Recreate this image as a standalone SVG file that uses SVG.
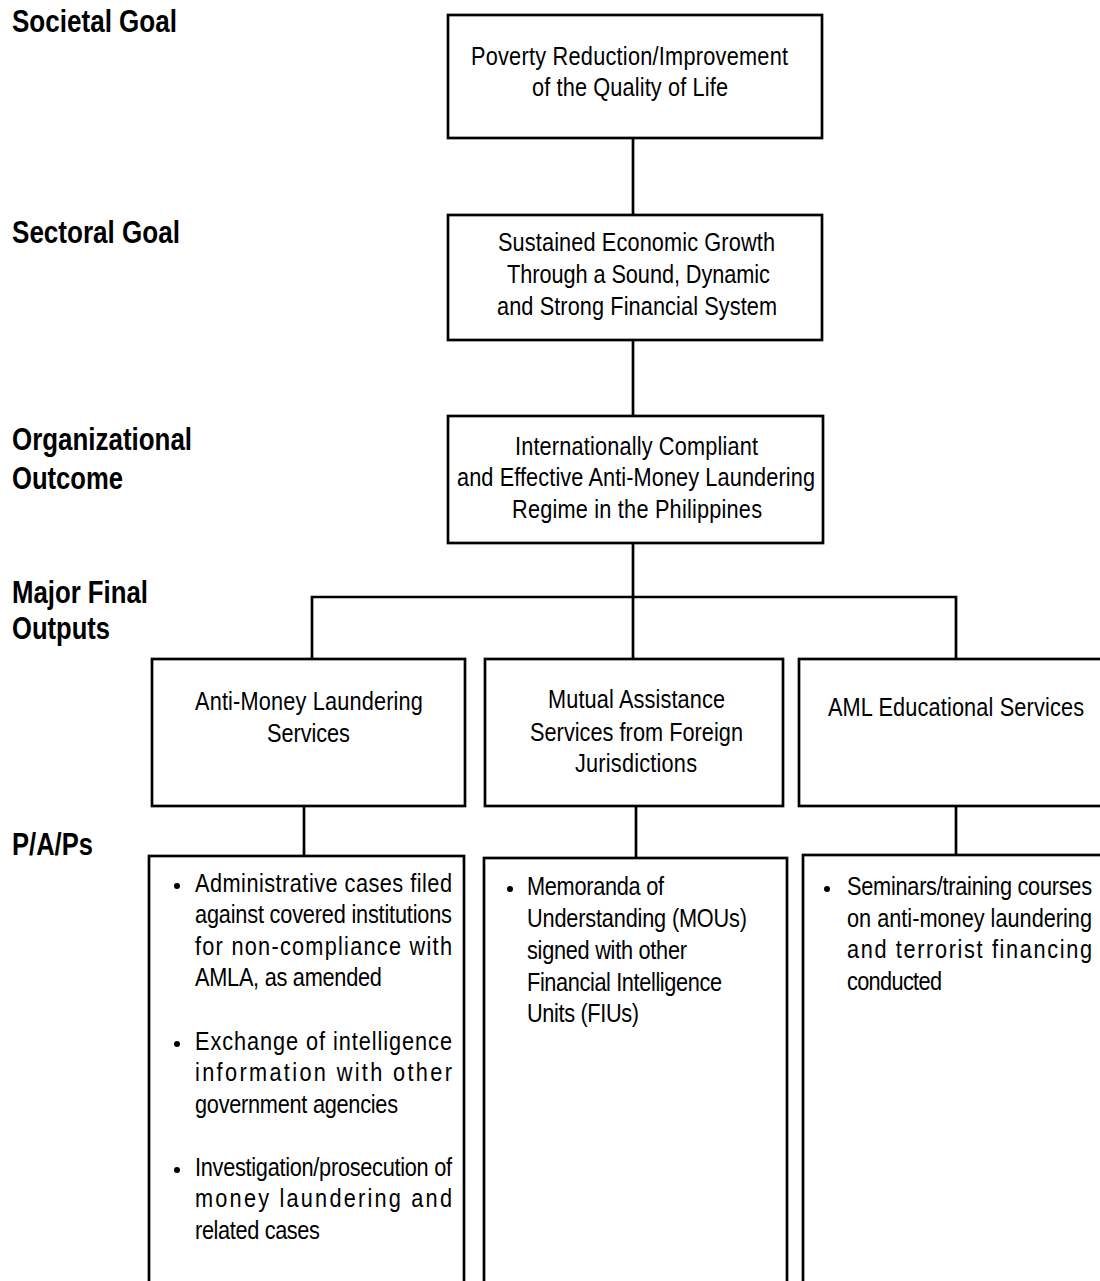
<svg xmlns="http://www.w3.org/2000/svg" width="1100" height="1281" viewBox="0 0 1100 1281">
<style>
.box{fill:#fff;stroke:#000;stroke-width:2.7}
.con{fill:none;stroke:#000;stroke-width:2.7}
.t{font-family:"Liberation Sans",Arial,sans-serif;font-size:26.5px;fill:#000}
.lbl{font-family:"Liberation Sans",Arial,sans-serif;font-size:31px;font-weight:bold;fill:#000}
.dot{fill:#000}
</style>
<rect width="1100" height="1281" fill="#fff"/>
<g id="labels">
<text class="lbl" x="12" y="32" textLength="165" lengthAdjust="spacingAndGlyphs">Societal Goal</text>
<text class="lbl" x="12" y="243" textLength="168" lengthAdjust="spacingAndGlyphs">Sectoral Goal</text>
<text class="lbl" x="12" y="450" textLength="180" lengthAdjust="spacingAndGlyphs">Organizational</text>
<text class="lbl" x="12" y="489" textLength="111" lengthAdjust="spacingAndGlyphs">Outcome</text>
<text class="lbl" x="12" y="603" textLength="136" lengthAdjust="spacingAndGlyphs">Major Final</text>
<text class="lbl" x="12" y="639" textLength="98" lengthAdjust="spacingAndGlyphs">Outputs</text>
<text class="lbl" x="12" y="855" textLength="81" lengthAdjust="spacingAndGlyphs">P/A/Ps</text>
</g>
<g id="connectors">
<path class="con" d="M633,138 V215"/>
<path class="con" d="M633,340 V416"/>
<path class="con" d="M633,543 V659"/>
<path class="con" d="M312,659 V597 H956 V659"/>
<path class="con" d="M304,806 V856"/>
<path class="con" d="M636,806 V858"/>
<path class="con" d="M956,806 V855"/>
</g>
<g id="societal-goal">
<rect class="box" x="448" y="15" width="374" height="123"/>
<text class="t" transform="translate(471,65) scale(0.82,1)" textLength="386.6" lengthAdjust="spacing">Poverty Reduction/Improvement</text>
<text class="t" transform="translate(532,96) scale(0.82,1)" textLength="239" lengthAdjust="spacing">of the Quality of Life</text>
</g>
<g id="sectoral-goal">
<rect class="box" x="448" y="215" width="374" height="125"/>
<text class="t" transform="translate(498,251) scale(0.82,1)" textLength="337.8" lengthAdjust="spacing">Sustained Economic Growth</text>
<text class="t" transform="translate(507,283) scale(0.82,1)" textLength="320.7" lengthAdjust="spacing">Through a Sound, Dynamic</text>
<text class="t" transform="translate(497,315) scale(0.82,1)" textLength="341.5" lengthAdjust="spacing">and Strong Financial System</text>
</g>
<g id="organizational-outcome">
<rect class="box" x="448" y="416" width="375" height="127"/>
<text class="t" transform="translate(515,455) scale(0.82,1)" textLength="296.3" lengthAdjust="spacing">Internationally Compliant</text>
<text class="t" transform="translate(457,486) scale(0.82,1)" textLength="436.6" lengthAdjust="spacing">and Effective Anti-Money Laundering</text>
<text class="t" transform="translate(512,518) scale(0.82,1)" textLength="304.9" lengthAdjust="spacing">Regime in the Philippines</text>
</g>
<g id="mfo-aml">
<rect class="box" x="152" y="659" width="313" height="147"/>
<text class="t" transform="translate(195,710) scale(0.82,1)" textLength="278" lengthAdjust="spacing">Anti-Money Laundering</text>
<text class="t" transform="translate(267,742) scale(0.82,1)" textLength="101.2" lengthAdjust="spacing">Services</text>
</g>
<g id="mfo-mutual">
<rect class="box" x="485" y="659" width="298" height="147"/>
<text class="t" transform="translate(548,708) scale(0.82,1)" textLength="215.9" lengthAdjust="spacing">Mutual Assistance</text>
<text class="t" transform="translate(530,741) scale(0.82,1)" textLength="259.8" lengthAdjust="spacing">Services from Foreign</text>
<text class="t" transform="translate(575,772) scale(0.82,1)" textLength="148.8" lengthAdjust="spacing">Jurisdictions</text>
</g>
<g id="mfo-educ">
<rect class="box" x="799" y="659" width="320" height="147"/>
<text class="t" transform="translate(828,716) scale(0.82,1)" textLength="312.2" lengthAdjust="spacing">AML Educational Services</text>
</g>
<g id="pap-aml">
<rect class="box" x="149" y="856" width="315" height="500"/>
<circle class="dot" cx="177" cy="886" r="3"/>
<text class="t" transform="translate(195,892) scale(0.82,1)" textLength="313.4" lengthAdjust="spacing">Administrative cases filed</text>
<text class="t" transform="translate(195,923) scale(0.82,1)" textLength="313.4" lengthAdjust="spacing">against covered institutions</text>
<text class="t" transform="translate(195,955) scale(0.82,1)" textLength="313.4" lengthAdjust="spacing">for non-compliance with</text>
<text class="t" transform="translate(195,986) scale(0.82,1)" textLength="228" lengthAdjust="spacing">AMLA, as amended</text>
<circle class="dot" cx="177" cy="1044" r="3"/>
<text class="t" transform="translate(195,1050) scale(0.82,1)" textLength="313.4" lengthAdjust="spacing">Exchange of intelligence</text>
<text class="t" transform="translate(195,1081) scale(0.82,1)" textLength="313.4" lengthAdjust="spacing">information with other</text>
<text class="t" transform="translate(195,1113) scale(0.82,1)" textLength="247.6" lengthAdjust="spacing">government agencies</text>
<circle class="dot" cx="177" cy="1170" r="3"/>
<text class="t" transform="translate(195,1176) scale(0.82,1)" textLength="313.4" lengthAdjust="spacing">Investigation/prosecution of</text>
<text class="t" transform="translate(195,1207) scale(0.82,1)" textLength="313.4" lengthAdjust="spacing">money laundering and</text>
<text class="t" transform="translate(195,1239) scale(0.82,1)" textLength="152.4" lengthAdjust="spacing">related cases</text>
</g>
<g id="pap-mutual">
<rect class="box" x="484" y="858" width="303" height="500"/>
<circle class="dot" cx="510" cy="889" r="3"/>
<text class="t" transform="translate(527,895) scale(0.82,1)" textLength="167.1" lengthAdjust="spacing">Memoranda of</text>
<text class="t" transform="translate(527,927) scale(0.82,1)" textLength="268.3" lengthAdjust="spacing">Understanding (MOUs)</text>
<text class="t" transform="translate(527,959) scale(0.82,1)" textLength="195.1" lengthAdjust="spacing">signed with other</text>
<text class="t" transform="translate(527,991) scale(0.82,1)" textLength="237.8" lengthAdjust="spacing">Financial Intelligence</text>
<text class="t" transform="translate(527,1022) scale(0.82,1)" textLength="136.6" lengthAdjust="spacing">Units (FIUs)</text>
</g>
<g id="pap-educ">
<rect class="box" x="803" y="855" width="320" height="500"/>
<circle class="dot" cx="827" cy="889" r="3"/>
<text class="t" transform="translate(847,895) scale(0.82,1)" textLength="298.8" lengthAdjust="spacing">Seminars/training courses</text>
<text class="t" transform="translate(847,927) scale(0.82,1)" textLength="298.8" lengthAdjust="spacing">on anti-money laundering</text>
<text class="t" transform="translate(847,958) scale(0.82,1)" textLength="298.8" lengthAdjust="spacing">and terrorist financing</text>
<text class="t" transform="translate(847,990) scale(0.82,1)" textLength="115.9" lengthAdjust="spacing">conducted</text>
</g>
</svg>
